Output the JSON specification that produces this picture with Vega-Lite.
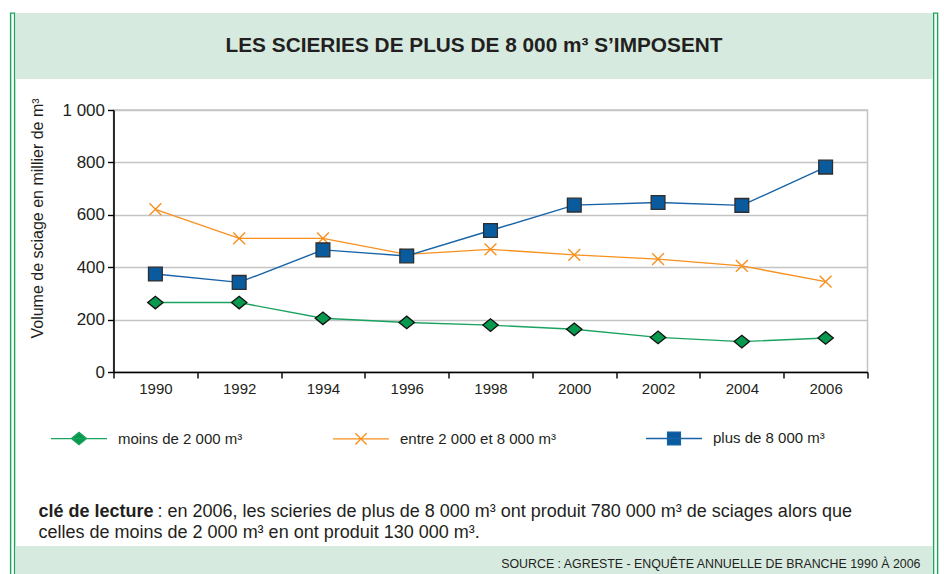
{
  "$schema": "https://vega.github.io/schema/vega-lite/v6.json",
  "background": "white",
  "padding": {"left": 9.5, "top": 12, "right": 0, "bottom": 0},
  "spacing": 0,
  "config": {
    "font": "Liberation Sans",
    "view": {"stroke": null},
    "concat": {"spacing": 0},
    "text": {"color": "#231f20"}
  },
  "hconcat": [
    {
      "width": 4, "height": 565,
      "view": {"stroke": "#1ba55a", "strokeWidth": 1.4},
      "data": {"values": []},
      "mark": "point"
    },
    {
      "spacing": 0,
      "vconcat": [
        {
          "width": 917, "height": 66,
          "view": {"fill": "#d6eadf", "stroke": null},
          "data": {"values": [{"titre": "LES SCIERIES DE PLUS DE 8 000 m³ S’IMPOSENT"}]},
          "mark": {"type": "text", "fontSize": 20.8, "fontWeight": "bold", "color": "#231f20"},
          "encoding": {"text": {"field": "titre"}}
        },
        {
          "width": 1, "height": 18,
          "data": {"values": []},
          "mark": "point"
        },
        {
          "spacing": 0,
          "hconcat": [
            {
              "width": 13, "height": 1,
              "data": {"values": []},
              "mark": "point"
            },
            {
              "width": 754, "height": 262,
              "view": {"stroke": "#c4c4c4", "strokeWidth": 1.5},
              "data": {"values": [
                {"annee": "1990", "serie": "moins de 2 000 m³", "volume": 265},
                {"annee": "1992", "serie": "moins de 2 000 m³", "volume": 265},
                {"annee": "1994", "serie": "moins de 2 000 m³", "volume": 205},
                {"annee": "1996", "serie": "moins de 2 000 m³", "volume": 189},
                {"annee": "1998", "serie": "moins de 2 000 m³", "volume": 179},
                {"annee": "2000", "serie": "moins de 2 000 m³", "volume": 163},
                {"annee": "2002", "serie": "moins de 2 000 m³", "volume": 132},
                {"annee": "2004", "serie": "moins de 2 000 m³", "volume": 116},
                {"annee": "2006", "serie": "moins de 2 000 m³", "volume": 130},
                {"annee": "1990", "serie": "entre 2 000 et 8 000 m³", "volume": 621},
                {"annee": "1992", "serie": "entre 2 000 et 8 000 m³", "volume": 510},
                {"annee": "1994", "serie": "entre 2 000 et 8 000 m³", "volume": 510},
                {"annee": "1996", "serie": "entre 2 000 et 8 000 m³", "volume": 449},
                {"annee": "1998", "serie": "entre 2 000 et 8 000 m³", "volume": 468},
                {"annee": "2000", "serie": "entre 2 000 et 8 000 m³", "volume": 447},
                {"annee": "2002", "serie": "entre 2 000 et 8 000 m³", "volume": 431},
                {"annee": "2004", "serie": "entre 2 000 et 8 000 m³", "volume": 405},
                {"annee": "2006", "serie": "entre 2 000 et 8 000 m³", "volume": 345},
                {"annee": "1990", "serie": "plus de 8 000 m³", "volume": 374},
                {"annee": "1992", "serie": "plus de 8 000 m³", "volume": 342},
                {"annee": "1994", "serie": "plus de 8 000 m³", "volume": 466},
                {"annee": "1996", "serie": "plus de 8 000 m³", "volume": 443},
                {"annee": "1998", "serie": "plus de 8 000 m³", "volume": 540},
                {"annee": "2000", "serie": "plus de 8 000 m³", "volume": 637},
                {"annee": "2002", "serie": "plus de 8 000 m³", "volume": 647},
                {"annee": "2004", "serie": "plus de 8 000 m³", "volume": 636},
                {"annee": "2006", "serie": "plus de 8 000 m³", "volume": 782}
              ]},
              "encoding": {
                "x": {
                  "field": "annee", "type": "ordinal",
                  "scale": {"type": "band", "paddingInner": 0, "paddingOuter": 0},
                  "axis": {
                    "title": null, "labelAngle": 0, "tickBand": "extent",
                    "domainColor": "#000000", "domainWidth": 1.6,
                    "tickColor": "#000000", "tickSize": 6, "tickWidth": 1.4,
                    "labelFontSize": 15, "labelPadding": 3, "labelColor": "#231f20",
                    "grid": false
                  }
                },
                "y": {
                  "field": "volume", "type": "quantitative",
                  "scale": {"domain": [0, 1000], "nice": false},
                  "axis": {
                    "values": [0, 200, 400, 600, 800, 1000],
                    "labelExpr": "replace(format(datum.value, ','), ',', ' ')",
                    "grid": true, "gridColor": "#c4c4c4", "gridWidth": 1.3,
                    "domainColor": "#000000", "domainWidth": 1.6,
                    "tickColor": "#000000", "tickSize": 6, "tickWidth": 1.4,
                    "labelFontSize": 17, "labelPadding": 3, "labelColor": "#231f20",
                    "title": "Volume de sciage en millier de m³",
                    "titleFontSize": 16, "titleFontWeight": "normal", "titleColor": "#231f20",
                    "titlePadding": 16, "titleY": 108
                  }
                }
              },
              "layer": [
                {
                  "mark": {"type": "line", "strokeWidth": 1.4},
                  "encoding": {
                    "color": {
                      "field": "serie", "type": "nominal",
                      "scale": {
                        "domain": ["moins de 2 000 m³", "entre 2 000 et 8 000 m³", "plus de 8 000 m³"],
                        "range": ["#1aa260", "#f7901e", "#1763a8"]
                      },
                      "legend": {
                        "orient": "none", "legendX": 39.5, "legendY": 396,
                        "direction": "horizontal", "columns": 3, "columnPadding": 87,
                        "title": null, "padding": 0,
                        "symbolSize": 3136, "symbolStrokeWidth": 1.3,
                        "labelFontSize": 15, "labelOffset": 10, "labelColor": "#231f20", "labelLimit": 400,
                        "encode": {
                          "symbols": {
                            "update": {
                              "shape": {"signal": "datum.value === 'moins de 2 000 m³' ? 'M-1,0H1M-0.27,0L0,-0.22L0.27,0L0,0.22Z' : datum.value === 'plus de 8 000 m³' ? 'M-1,0H1M-0.23,-0.23H0.23V0.23H-0.23Z' : 'M-1,0H1M-0.2,-0.2L0.2,0.2M-0.2,0.2L0.2,-0.2'"},
                              "fill": {"signal": "datum.value === 'moins de 2 000 m³' ? '#079a4f' : datum.value === 'plus de 8 000 m³' ? '#0a5a9e' : 'transparent'"}
                            }
                          }
                        }
                      }
                    }
                  }
                },
                {
                  "transform": [{"filter": "datum.serie === 'moins de 2 000 m³'"}],
                  "mark": {"type": "point", "shape": "M-1.1,0L0,-0.9L1.1,0L0,0.9Z", "size": 196, "fill": "#079a4f", "stroke": "#111111", "strokeWidth": 1.3, "opacity": 1, "filled": true}
                },
                {
                  "transform": [{"filter": "datum.serie === 'entre 2 000 et 8 000 m³'"}],
                  "mark": {"type": "point", "shape": "M-0.85,-0.85L0.85,0.85M-0.85,0.85L0.85,-0.85", "size": 196, "fill": "transparent", "stroke": "#f7901e", "strokeWidth": 1.4, "opacity": 1}
                },
                {
                  "transform": [{"filter": "datum.serie === 'plus de 8 000 m³'"}],
                  "mark": {"type": "point", "shape": "square", "size": 190, "fill": "#0a5a9e", "stroke": "#2e2e2e", "strokeWidth": 1.3, "opacity": 1, "filled": true}
                }
              ]
            }
          ]
        },
        {
          "width": 917, "height": 149,
          "layer": [
            {
              "data": {"values": [{"t": "clé de lecture"}]},
              "mark": {"type": "text", "align": "left", "x": 23, "dy": 40.5, "fontSize": 18, "fontWeight": "bold"},
              "encoding": {"text": {"field": "t"}}
            },
            {
              "data": {"values": [{"t": ": en 2006, les scieries de plus de 8 000 m³ ont produit 780 000 m³ de sciages alors que"}]},
              "mark": {"type": "text", "align": "left", "x": 142, "dy": 40.5, "fontSize": 18},
              "encoding": {"text": {"field": "t"}}
            },
            {
              "data": {"values": [{"t": "celles de moins de 2 000 m³ en ont produit 130 000 m³."}]},
              "mark": {"type": "text", "align": "left", "x": 23, "dy": 61, "fontSize": 18},
              "encoding": {"text": {"field": "t"}}
            }
          ]
        },
        {
          "width": 917, "height": 32,
          "view": {"fill": "#d6eadf", "stroke": null},
          "data": {"values": [{"src": "SOURCE : AGRESTE - ENQUÊTE ANNUELLE DE BRANCHE 1990 À 2006"}]},
          "mark": {"type": "text", "align": "right", "x": "width", "dx": -12, "dy": 2, "fontSize": 12.4},
          "encoding": {"text": {"field": "src"}}
        }
      ]
    },
    {
      "width": 4, "height": 565,
      "view": {"stroke": "#1ba55a", "strokeWidth": 1.4},
      "data": {"values": []},
      "mark": "point"
    }
  ]
}
